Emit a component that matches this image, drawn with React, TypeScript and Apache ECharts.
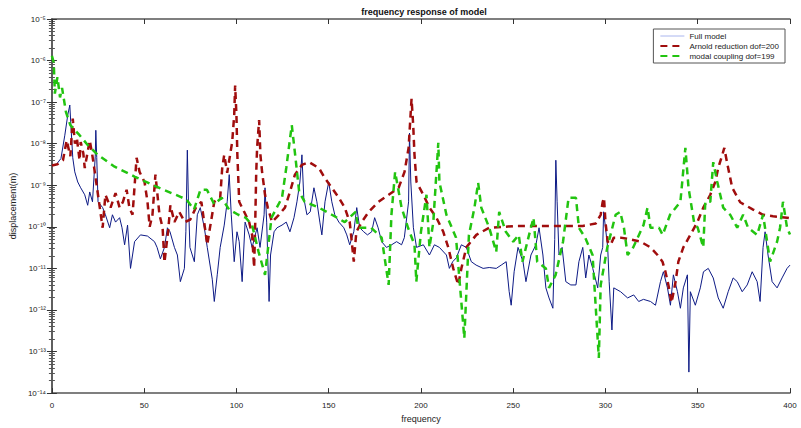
import React, { useEffect, useRef } from "react";
import * as echarts from "echarts";

const titleText = "frequency response of model";
const xName = "frequency";
const yName = "displacement(m)";
const legendNames = ["Full model", "Arnold reduction dof=200", "modal coupling dof=199"];
const xTicks = [0, 50, 100, 150, 200, 250, 300, 350, 400];

const fullModel: [number, number][] = [
  [0, 3e-9], [2, 3e-9], [4.9, 4.4e-9], [7, 1.6e-8], [8.6, 4.9e-8], [9.7, 8.5e-8], [10.3, 2.8e-8],
  [11.3, 4.6e-9], [12.4, 2.1e-9], [14, 1.2e-9], [15.6, 8.7e-10], [17.8, 5.9e-10], [19.4, 3.3e-10],
  [20.5, 6.9e-10], [22, 4e-10], [23.5, 5e-9], [23.8, 2.1e-8], [24.3, 4.6e-9], [25, 4e-10],
  [27.5, 2.9e-10], [29, 1.95e-10], [31.3, 9.5e-11], [32.8, 1.95e-10], [34.5, 1.3e-10], [36.7, 1.66e-10],
  [38, 9.5e-11], [39.4, 3.7e-11], [41, 1.1e-10], [42.6, 1e-11], [44.8, 4.4e-11], [48, 6.4e-11],
  [51.8, 6e-11], [55.6, 4.4e-11], [57, 3.2e-11], [58.8, 1.7e-11], [61, 3.2e-11], [62.6, 9.5e-11],
  [64, 7.6e-11], [66.4, 3.2e-11], [68, 2.1e-11], [69.6, 4.8e-12], [71.8, 1e-11], [72.6, 7.6e-11],
  [73.4, 7e-9], [74, 4e-10], [74.8, 3.2e-11], [77.2, 1.45e-11], [78.8, 1.95e-10], [80.4, 2.9e-10],
  [82.6, 9.5e-11], [84.2, 3.2e-11], [86.9, 5.5e-12], [88, 1.6e-12], [89.6, 7e-12], [91.2, 3.2e-11],
  [93.4, 1.1e-10], [95, 4e-10], [96.1, 1.8e-9], [97.2, 1.95e-10], [98.8, 1.45e-11], [100.3, 7.6e-11],
  [101.5, 4.4e-11], [103.1, 4.8e-12], [104.7, 1.3e-10], [106.9, 6.4e-11], [108.5, 3.2e-11],
  [111.2, 9.5e-11], [112.8, 3.2e-11], [115, 1.95e-10], [115.5, 8.7e-10], [116.4, 1.3e-10],
  [117.7, 1.6e-12], [118.5, 2.1e-11], [120.4, 7.6e-11], [122, 9.5e-11], [124.7, 1.1e-10],
  [127, 1.3e-10], [129, 7.6e-11], [131.2, 1.66e-10], [132.8, 4e-10], [134.4, 1.2e-9], [135.5, 5.4e-9],
  [136.5, 5e-10], [138.2, 1.95e-10], [140, 2.3e-10], [142, 8.7e-10], [143.6, 4e-10], [145.2, 1.3e-10],
  [146.3, 6.4e-11], [148, 4e-10], [150, 1.2e-9], [151.7, 4e-10], [153.3, 1.95e-10], [155.5, 1.3e-10],
  [158.2, 9.5e-11], [159.8, 6.4e-11], [161.4, 3.7e-11], [163.6, 7.6e-11], [165.2, 2.9e-10],
  [166.8, 9.5e-11], [169, 7.6e-11], [171, 6.4e-11], [173.3, 7.6e-11], [174.9, 1.66e-10],
  [176.8, 9.5e-11], [178.7, 4.4e-11], [181.3, 3.2e-11], [184.1, 3.7e-11], [186.8, 4.4e-11],
  [189.5, 3.7e-11], [191, 5.5e-11], [193.3, 4e-10], [193.8, 1.8e-8], [194.5, 1.2e-9], [195.9, 9.5e-11],
  [197.6, 3.2e-11], [201.3, 3.7e-11], [204.6, 2.1e-11], [207.3, 3.7e-11], [210, 3.2e-11],
  [213.8, 2.1e-11], [215.4, 1e-11], [217.2, 1.45e-11], [219.2, 1.8e-11], [221.9, 3.7e-11],
  [224.6, 3.2e-11], [227.3, 1.45e-11], [229.9, 1.2e-11], [233.7, 1e-11], [237, 1.05e-11],
  [240.8, 1e-11], [243.5, 1.2e-11], [246.2, 1.45e-11], [247.8, 2.8e-12], [248.9, 1.3e-12],
  [250.5, 8.3e-12], [252.6, 3.2e-11], [255.3, 1.45e-11], [256.9, 4.8e-12], [259.6, 2.1e-11],
  [262.3, 3.7e-11], [264, 9.5e-11], [266.1, 2.1e-11], [267.7, 3.4e-12], [269.4, 1.95e-12],
  [271.5, 1.1e-12], [272.5, 5e-11], [273.1, 4e-9], [273.8, 4e-10], [274.8, 2.1e-11], [276.5, 3.2e-11],
  [278.5, 4.8e-12], [281.2, 4e-12], [284, 4e-12], [285.6, 1.45e-11], [287.7, 3.2e-11], [289.3, 5.9e-12],
  [291, 2.1e-11], [293.1, 1e-11], [295.8, 3.4e-12], [297.4, 2.1e-11], [298.5, 3.2e-11], [299, 2.3e-10],
  [300, 9.5e-11], [301.2, 3.2e-11], [302, 4.8e-12], [303.5, 3.3e-13], [304.5, 3.4e-12], [308.2, 2.75e-12],
  [312, 1.95e-12], [315.3, 2.3e-12], [318, 1.6e-12], [320.6, 1.8e-12], [324.4, 1.6e-12],
  [327.1, 1.3e-12], [329.8, 4.8e-12], [331.4, 8.3e-12], [333.6, 3.4e-12], [335.2, 1.3e-12],
  [336.8, 7e-12], [339, 2.75e-12], [340.6, 1.1e-12], [342.2, 3.4e-12], [344.4, 7e-12], [345.2, 3.2e-14],
  [346, 2.75e-12], [348.7, 1.3e-12], [351.4, 3.4e-12], [353.1, 8.3e-12], [355.7, 1e-11],
  [358.4, 5.9e-12], [361.1, 1.95e-12], [363.8, 1.1e-12], [366.5, 2.75e-12], [369.2, 5.9e-12],
  [371.4, 4.8e-12], [374.1, 2.75e-12], [376.8, 4e-12], [379.5, 8.3e-12], [382.2, 4.8e-12],
  [383.8, 1.6e-12], [385.4, 3.2e-11], [386.5, 7.6e-11], [388.1, 2.1e-11], [390.3, 4.8e-12],
  [393, 3.4e-12], [395.7, 5.9e-12], [398.4, 1e-11], [400, 1.2e-11],
];

const arnoldReduction: [number, number][] = [
  [0, 3e-9], [3, 3.2e-9], [6, 4e-9], [8, 1.2e-8], [10, 5e-9], [11.3, 4e-8], [12.5, 1e-8],
  [13.5, 1.4e-8], [15, 4e-9], [15.6, 1.1e-8], [17, 6e-9], [17.8, 2.6e-9], [20.5, 1.2e-8], [22, 5e-9],
  [23.3, 2e-9], [26.5, 1.95e-10], [27.5, 9.5e-11], [29, 5.9e-10], [31.8, 2.9e-10], [34.5, 6.5e-10],
  [36.7, 2.9e-10], [38.5, 4e-10], [40.5, 7.8e-10], [42, 2.9e-10], [43.7, 1.95e-10], [45.9, 4.6e-9],
  [47.5, 2.1e-9], [50.2, 1.2e-9], [51.8, 4e-10], [53, 1e-10], [54.5, 1.95e-10], [56.1, 1.8e-9],
  [58.3, 1.95e-10], [60, 9.5e-11], [61, 1.4e-11], [63, 8e-11], [64.2, 3.3e-10], [66.4, 1.3e-10],
  [69, 2.3e-10], [72, 1.3e-10], [75, 1.5e-10], [78, 2.9e-10], [81, 4e-10], [84.2, 3.7e-11],
  [85.3, 7.6e-11], [88, 4e-10], [91.2, 5e-10], [92.3, 2.6e-9], [93.4, 5.4e-9], [95, 2e-9],
  [97.7, 1.1e-8], [98.8, 4.9e-8], [99.3, 2.5e-7], [100, 5e-8], [100.5, 5.4e-9], [101, 1.5e-9],
  [101.5, 4e-10], [104.2, 2.3e-10], [106.9, 1.3e-10], [108.5, 6.4e-11], [109.6, 1.05e-11],
  [110.2, 1.3e-10], [110.7, 1.8e-9], [111.2, 7.9e-9], [112.3, 3.7e-8], [113, 5.4e-9], [113.9, 2.1e-9],
  [115.5, 5.9e-10], [117, 2.9e-10], [119.3, 1.3e-10], [123, 1.95e-10], [126.3, 2.9e-10],
  [129, 6.9e-10], [131.7, 1.8e-9], [135.5, 3.1e-9], [139.3, 3.6e-9], [144.7, 2.6e-9], [147.9, 1.5e-9],
  [151.7, 8.7e-10], [155.5, 5e-10], [158.7, 2.9e-10], [161.4, 1.3e-10], [162.5, 4.4e-11],
  [163.6, 1.45e-11], [165, 7.6e-11], [167.9, 1.3e-10], [171.7, 2.3e-10], [177, 4e-10],
  [182.5, 5.9e-10], [187.9, 8.7e-10], [191.1, 2.1e-9], [193.3, 7.9e-9], [194.9, 1.2e-7],
  [195.8, 2.8e-8], [196.5, 5.4e-9], [197.6, 1.2e-9], [201.3, 5.9e-10], [204.6, 2.9e-10],
  [208.4, 1.66e-10], [212.1, 7.6e-11], [214.8, 3.2e-11], [217.5, 1e-11], [220.2, 4e-12],
  [221.9, 1e-11], [224.6, 3.2e-11], [230, 6.4e-11], [237, 9.5e-11], [244.5, 1e-10], [251.5, 1.05e-10],
  [260.7, 1.05e-10], [269.4, 1.05e-10], [278.5, 1.05e-10], [287.7, 1.05e-10], [294.7, 1.2e-10],
  [297.4, 1.95e-10], [298.5, 4e-10], [299.2, 5e-10], [300, 1.3e-10], [301.2, 4.4e-11],
  [302.8, 3.7e-11], [304.5, 5.5e-11], [308.2, 5.5e-11], [313.6, 5e-11], [319, 4.4e-11],
  [324.4, 3.2e-11], [328.2, 2.1e-11], [330.9, 1.45e-11], [332.5, 8.3e-12], [334.1, 4e-12],
  [335.8, 1.5e-12], [338, 4.8e-12], [339.5, 1.45e-11], [342.2, 3.2e-11], [346, 6.4e-11],
  [349.8, 1.3e-10], [353, 2.9e-10], [356.8, 5.9e-10], [359.5, 1.2e-9], [361.1, 2.6e-9],
  [363.3, 5.4e-9], [364.4, 7.9e-9], [366, 3.3e-9], [368.7, 8.7e-10], [373, 3.9e-10], [380, 2.6e-10],
  [385.4, 1.95e-10], [390.8, 1.8e-10], [398.4, 1.66e-10], [400, 1.6e-10],
];

const modalCoupling: [number, number][] = [
  [0, 1.3e-6], [1, 9e-7], [1.6, 1.6e-7], [3, 4e-7], [4.4, 1.3e-7], [5.5, 2.2e-7], [7.6, 5.8e-8],
  [10, 2.8e-8], [15, 1.6e-8], [19.4, 9.3e-9], [24.8, 5.4e-9], [34, 2.8e-9], [45, 1.6e-9],
  [57, 9.1e-10], [70, 5.2e-10], [73, 4.5e-10], [77, 2.6e-10], [80.5, 7.8e-10], [84, 7.8e-10],
  [88, 3.5e-10], [92, 5e-10], [96, 2.6e-10], [101, 1.95e-10], [105, 1.66e-10], [108.5, 1.1e-10],
  [112, 2.5e-11], [115.5, 7e-12], [119, 1.66e-10], [124.7, 5e-10], [127, 2.6e-9], [130, 2.8e-8],
  [132, 4.6e-9], [134, 6.9e-10], [137, 4e-10], [144.7, 2.9e-10], [151.7, 1.95e-10], [158.7, 1.3e-10],
  [164.6, 2.3e-10], [166, 9.5e-11], [173, 9.5e-11], [178.7, 5.5e-11], [182.5, 4e-12], [184, 1.95e-10],
  [186, 2.1e-9], [189.5, 2.9e-10], [193, 9.5e-11], [196.5, 3.7e-11], [197.5, 4.8e-12], [200, 7.6e-11],
  [203, 5.9e-10], [204.6, 3.2e-11], [206.7, 1.3e-10], [209.4, 1.05e-8], [210, 1.2e-9],
  [213.8, 1.95e-10], [219, 5.5e-11], [223.5, 2.1e-13], [226, 6.4e-11], [229, 2.9e-10],
  [231, 1.15e-9], [232.7, 2.9e-10], [237, 9.5e-11], [240.8, 2.5e-11], [242.4, 2.3e-10],
  [246, 7.6e-11], [250, 4.4e-11], [253, 6.4e-11], [255, 1.45e-11], [258.6, 6.4e-11], [261, 1.66e-10],
  [263, 1.45e-11], [267.7, 1e-11], [269.4, 3.4e-12], [273, 7e-12], [277, 4.4e-11], [280, 5e-10],
  [284, 5e-10], [285.6, 9.5e-11], [289, 5.5e-11], [293, 2.1e-11], [296.4, 7e-14], [297.4, 4e-12],
  [301, 3.2e-11], [305.5, 1.95e-10], [308, 2.3e-10], [310, 9.5e-11], [312, 2.1e-11], [315, 3.2e-11],
  [320.6, 1.1e-10], [322.8, 2.9e-10], [324.4, 9.5e-11], [329, 9.5e-11], [331, 6.4e-11],
  [335, 1.95e-10], [340.6, 4e-10], [343.3, 7.9e-9], [345, 8.7e-10], [348, 1.3e-10], [350, 9.5e-11],
  [353, 3.2e-11], [354.1, 4e-10], [356.8, 4e-10], [358.4, 3.6e-9], [360.6, 1.2e-9], [363.8, 2.9e-10],
  [367.6, 1.95e-10], [371.4, 9.5e-11], [374.6, 1.95e-10], [377.3, 9.5e-11], [382.2, 6.4e-11],
  [385.4, 1.95e-10], [387.6, 4.4e-11], [389.2, 1.45e-11], [393, 4.4e-11], [394.6, 9.5e-11],
  [396.2, 4e-10], [398.4, 9.5e-11], [400, 6.5e-11],
];

const SUP: Record<string, string> = {
  "-": "\u207B", "0": "\u2070", "1": "\u00B9", "2": "\u00B2", "3": "\u00B3", "4": "\u2074",
  "5": "\u2075", "6": "\u2076", "7": "\u2077", "8": "\u2078", "9": "\u2079",
};
const powLabel = (v: number) => {
  const e = Math.round(Math.log10(v));
  return "10" + String(e).split("").map((c) => SUP[c] || c).join("");
};

const FONT = "Liberation Sans, Arial, sans-serif";
const AXIS_COLOR = "#555";

export default function App() {
  const ref = useRef<HTMLDivElement>(null);
  useEffect(() => {
    if (!ref.current) return;
    const chart = echarts.init(ref.current, undefined, { renderer: "svg" });
    const yCommon = {
      type: "log" as const,
      logBase: 10,
      min: 1e-14,
      max: 1e-5,
      splitNumber: 9,
      axisLine: { show: true, lineStyle: { color: AXIS_COLOR, width: 1.5 } },
      axisTick: { show: true, inside: true, length: 5, lineStyle: { color: "#333" } },
      minorTick: { show: true, splitNumber: 9, length: 3, lineStyle: { color: "#555" } },
      splitLine: { show: false },
    };
    const xCommon = {
      type: "value" as const,
      min: 0,
      max: 400,
      interval: 50,
      axisLine: { show: true, onZero: false, lineStyle: { color: AXIS_COLOR, width: 1.5 } },
      axisTick: { show: true, inside: true, length: 5, lineStyle: { color: "#333" } },
      splitLine: { show: false },
    };
    chart.setOption({
      animation: false,
      backgroundColor: "#fff",
      title: {
        text: titleText,
        left: 419,
        textAlign: "center",
        top: 2,
        textStyle: { fontSize: 9, fontWeight: "bold", color: "#111", fontFamily: FONT },
      },
      legend: {
        data: [
          { name: legendNames[0], lineStyle: { color: "#aab6ee", width: 1 } },
          { name: legendNames[1] },
          { name: legendNames[2] },
        ],
        orient: "vertical",
        right: 16,
        top: 29,
        padding: [3, 6, 3, 6],
        itemGap: 2,
        itemWidth: 24,
        itemHeight: 8,
        backgroundColor: "#fff",
        borderColor: "#555",
        borderWidth: 1,
        borderRadius: 0,
        itemStyle: { opacity: 0 },
        textStyle: { fontSize: 8, color: "#222", fontFamily: FONT },
      },
      grid: { left: 49, right: 11, top: 19, bottom: 34, containLabel: false },
      xAxis: [
        {
          ...xCommon,
          position: "bottom",
          name: xName,
          nameLocation: "middle",
          nameGap: 17,
          nameTextStyle: { fontSize: 9, color: "#222", fontFamily: FONT },
          axisLabel: {
            show: true,
            fontSize: 8,
            color: "#222",
            fontFamily: FONT,
            margin: 8,
            customValues: xTicks,
          },
        },
        { ...xCommon, position: "top", axisLabel: { show: false } },
      ],
      yAxis: [
        {
          ...yCommon,
          position: "left",
          name: yName,
          nameLocation: "middle",
          nameGap: 32,
          nameTextStyle: { fontSize: 9, color: "#222", fontFamily: FONT },
          axisLabel: {
            show: true,
            fontSize: 8,
            color: "#222",
            fontFamily: FONT,
            margin: 6,
            formatter: (v: number) => powLabel(v),
          },
        },
        { ...yCommon, position: "right", axisLabel: { show: false } },
      ],
      series: [
        {
          name: legendNames[0],
          type: "line",
          data: fullModel,
          showSymbol: false,
          symbol: "none",
          lineStyle: { color: "#0d1a85", width: 1 },
          itemStyle: { color: "#0d1a85" },
          z: 2,
        },
        {
          name: legendNames[1],
          type: "line",
          data: arnoldReduction,
          showSymbol: false,
          symbol: "none",
          lineStyle: { color: "#a00d0d", width: 2.5, type: [7, 5] },
          itemStyle: { color: "#a00d0d" },
          z: 3,
        },
        {
          name: legendNames[2],
          type: "line",
          data: modalCoupling,
          showSymbol: false,
          symbol: "none",
          lineStyle: { color: "#22c410", width: 2.5, type: [7, 5] },
          itemStyle: { color: "#22c410" },
          z: 4,
        },
      ],
    });
    return () => chart.dispose();
  }, []);
  return <div ref={ref} style={{ width: 801, height: 428, position: "absolute", left: 0, top: 0 }} />;
}
